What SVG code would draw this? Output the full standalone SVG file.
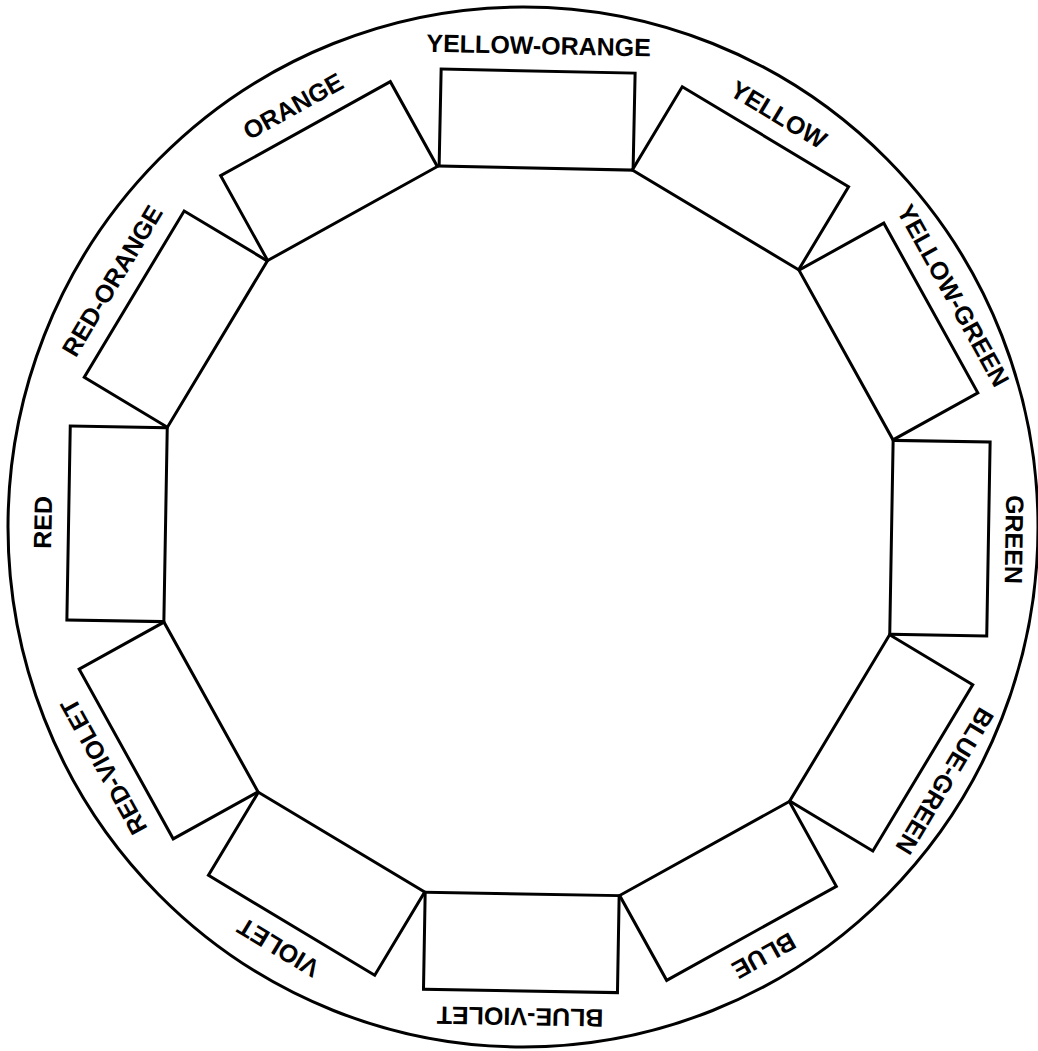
<svg xmlns="http://www.w3.org/2000/svg" width="1038" height="1051" viewBox="0 0 1038 1051">
<style>
.ring{fill:none;stroke:#000;stroke-width:3}
.box{fill:#fff;stroke:#000;stroke-width:3;stroke-linejoin:miter}
.lbl{font-family:"Liberation Sans",Arial,sans-serif;font-weight:bold;font-size:25px;fill:#000;text-anchor:middle}
</style>
<rect width="1038" height="1051" fill="#fff"/>
<g id="outer-circle">
<ellipse class="ring" cx="523" cy="527" rx="515" ry="520"/>
</g>
<g id="connectors"></g>
<g id="yellow-orange" transform="rotate(1.2 528.5 531)"><rect class="box" x="431.5" y="71" width="194" height="97"/><text class="lbl" x="528.5" y="54">YELLOW-ORANGE</text></g>
<g id="yellow" transform="rotate(31 528.5 531)"><rect class="box" x="431.5" y="71" width="194" height="97"/><text class="lbl" x="528.5" y="54">YELLOW</text></g>
<g id="yellow-green" transform="rotate(61 528.5 531)"><rect class="box" x="431.5" y="71" width="194" height="97"/><text class="lbl" x="528.5" y="54">YELLOW-GREEN</text></g>
<g id="green" transform="rotate(91 528.5 531)"><rect class="box" x="431.5" y="71" width="194" height="97"/><text class="lbl" x="528.5" y="54">GREEN</text></g>
<g id="blue-green" transform="rotate(121 528.5 531)"><rect class="box" x="431.5" y="71" width="194" height="97"/><text class="lbl" x="528.5" y="54">BLUE-GREEN</text></g>
<g id="blue" transform="rotate(151 528.5 531)"><rect class="box" x="431.5" y="71" width="194" height="97"/><text class="lbl" x="528.5" y="54">BLUE</text></g>
<g id="blue-violet" transform="rotate(181 528.5 531)"><rect class="box" x="431.5" y="71" width="194" height="97"/><text class="lbl" x="528.5" y="54">BLUE-VIOLET</text></g>
<g id="violet" transform="rotate(211 528.5 531)"><rect class="box" x="431.5" y="71" width="194" height="97"/><text class="lbl" x="528.5" y="54">VIOLET</text></g>
<g id="red-violet" transform="rotate(241 528.5 531)"><rect class="box" x="431.5" y="71" width="194" height="97"/><text class="lbl" x="528.5" y="54">RED-VIOLET</text></g>
<g id="red" transform="rotate(271 528.5 531)"><rect class="box" x="431.5" y="71" width="194" height="97"/><text class="lbl" x="528.5" y="54">RED</text></g>
<g id="red-orange" transform="rotate(301 528.5 531)"><rect class="box" x="431.5" y="71" width="194" height="97"/><text class="lbl" x="528.5" y="54">RED-ORANGE</text></g>
<g id="orange" transform="rotate(331 528.5 531)"><rect class="box" x="431.5" y="71" width="194" height="97"/><text class="lbl" x="528.5" y="54">ORANGE</text></g>
</svg>
